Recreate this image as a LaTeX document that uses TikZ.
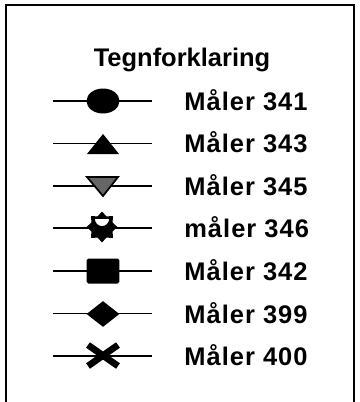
\documentclass[tikz,border=0pt]{standalone}
\usepackage{fontspec}
\setmainfont{Liberation Sans}
\newfontfamily\lblfont[LetterSpace=4]{Liberation Sans}
\usetikzlibrary{shapes.geometric}
\tikzset{
  lbl/.style={anchor=base west,inner sep=0pt,font=\lblfont\fontsize{14.5}{17}\selectfont\bfseries},
  ttl/.style={anchor=base,inner sep=0pt,font=\fontsize{14.5}{17}\selectfont\bfseries},
  rowline/.style={line width=1.1pt},
  sym/.style={fill=black,draw=none,inner sep=0pt}
}
\begin{document}
\begin{tikzpicture}[x=0.02cm,y=-0.02cm]
  \useasboundingbox (0,0) rectangle (359,402);
  \clip (0,0) rectangle (359,402);
  % frame, open at the bottom
  \draw[line width=1pt] (6,420) -- (6,5) -- (354,5) -- (354,420);
  \node[ttl] (title) at (182,67) {Tegnforklaring};
  % rows: line, label
  \foreach \y/\txt [count=\i] in {101/Måler 341,143.5/Måler 343,186/Måler 345,228/måler 346,271/Måler 342,313.5/Måler 399,356/Måler 400}{
    \coordinate (l\i) at (53,\y);
    \coordinate (r\i) at (152,\y);
    \draw[rowline] (l\i) -- (r\i);
    \node[lbl] (lab\i) at (184,\y+9.5) {\txt};
  }
  % symbols
  \node[sym,ellipse,minimum width=0.66cm,minimum height=0.5cm] (s1) at (103,101) {};
  \fill (87,154) -- (119,154) -- (103,134) -- cycle;
  \filldraw[fill=black!60,draw=black,line width=1pt] (87,177) -- (118,177) -- (103,196) -- cycle;
  \node[sym,star,star points=8,star point ratio=1.35,minimum size=0.62cm] (s4) at (102,227) {};
  \draw[line width=1pt,fill=white] (94,219) arc[start angle=180,end angle=0,radius=8];
  \node[sym,rectangle,rounded corners=1pt,minimum width=0.66cm,minimum height=0.5cm] (s5) at (103,271) {};
  \node[sym,diamond,minimum width=0.66cm,minimum height=0.52cm] (s6) at (103,314) {};
  \draw[line width=3.8pt] (88,345) -- (118,366);
  \draw[line width=3.8pt] (88,366) -- (118,345);
\end{tikzpicture}
\end{document}
